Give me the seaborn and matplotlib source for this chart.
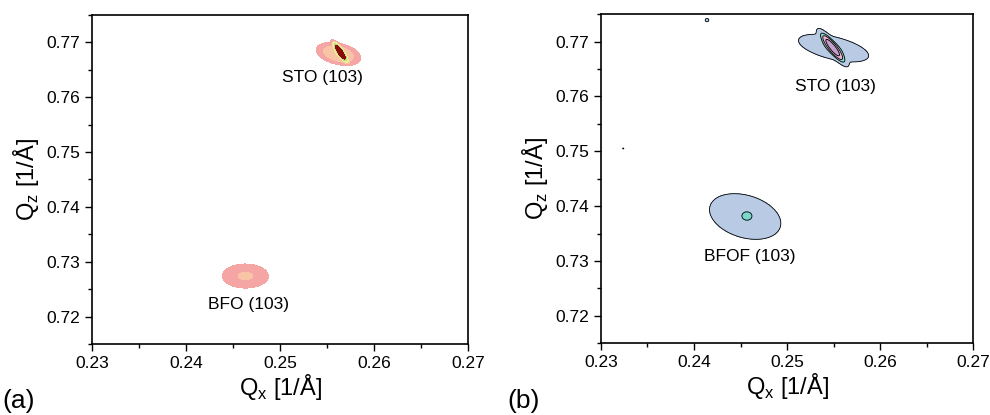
# Reciprocal space maps (103) - panels (a) and (b)
import numpy as np
import matplotlib.pyplot as plt
from matplotlib.ticker import MultipleLocator
import seaborn as sns

sns.set_style('ticks')
plt.rcParams['font.family'] = ['Liberation Sans', 'DejaVu Sans']
plt.rcParams['mathtext.fontset'] = 'custom'
plt.rcParams['mathtext.rm'] = 'Liberation Sans'
for k in ['text.color', 'axes.labelcolor', 'xtick.color', 'ytick.color', 'axes.edgecolor']:
    plt.rcParams[k] = 'black'

# peak parameters: centre, widths, tilt (correlation), height
# panel (a)
a_qx = [0.2463, 0.2562, 0.2564]
a_qz = [0.7274, 0.7679, 0.7682]
a_sx = [0.00165, 0.00125, 0.00028]
a_sz = [0.00148, 0.00112, 0.00066]
a_rho = [0.0, -0.35, -0.85]
a_amp = [3.0, 6.0, 220.0]
a_levels = [1, 2.7, 6, 16, 40, 1e6]
a_colors = ['#f5a5a3', '#f8c4a6', '#f2f08e', '#b6de8a', '#8b0a0a']

# panel (b)
b_qx = [0.2550, 0.2549, 0.2455, 0.2457, 0.2414, 0.2324]
b_qz = [0.7688, 0.7689, 0.7381, 0.7382, 0.7739, 0.7505]
b_sx = [0.0021, 0.00058, 0.0023, 0.00035, 0.0002, 0.00008]
b_sz = [0.0014, 0.0012, 0.0025, 0.0005, 0.0003, 0.0001]
b_rho = [-0.55, -0.88, -0.3, 0.0, 0.0, 0.0]
b_amp = [5.0, 60.0, 4.0, 7.0, 1.6, 1.5]
b_levels = [1, 6, 13, 30, 1e6]
b_colors = ['#b9cbe4', '#7fd6cb', '#eab0cf', '#c2a0cc']

labels_a = ['STO (103)', 'BFO (103)']
labels_a_pos = [(0.2545, 0.7636), (0.2466, 0.7222)]
labels_b = ['STO (103)', 'BFOF (103)']
labels_b_pos = [(0.2552, 0.7618), (0.2460, 0.7308)]

qx = np.linspace(0.23, 0.27, 600)
qz = np.linspace(0.715, 0.775, 600)
X, Z = np.meshgrid(qx, qz)


def intensity(cx, cz, sx, sz, rho, amp):
    total = np.zeros_like(X)
    for x0, z0, wx, wz, r, A in zip(cx, cz, sx, sz, rho, amp):
        u = (X - x0) / wx
        v = (Z - z0) / wz
        m = (u**2 - 2 * r * u * v + v**2) / (1 - r**2)
        total += A * np.exp(-0.5 * m)
    return total


fig = plt.figure(figsize=(9.9, 4.15), dpi=100)
ax1 = fig.add_axes([0.093, 0.171, 0.380, 0.793])
ax2 = fig.add_axes([0.607, 0.173, 0.376, 0.793])

Ia = intensity(a_qx, a_qz, a_sx, a_sz, a_rho, a_amp)
ax1.contourf(X, Z, Ia, levels=a_levels, colors=a_colors)

Ib = intensity(b_qx, b_qz, b_sx, b_sz, b_rho, b_amp)
ax2.contourf(X, Z, Ib, levels=b_levels, colors=b_colors)
ax2.contour(X, Z, Ib, levels=b_levels[:-1], colors='black', linewidths=0.6)

for ax, labs, pos in [(ax1, labels_a, labels_a_pos), (ax2, labels_b, labels_b_pos)]:
    for t, (x, z) in zip(labs, pos):
        ax.text(x, z, t, ha='center', va='center', fontsize=12.5)
    ax.set_xlim(0.23, 0.27)
    ax.set_ylim(0.715, 0.775)
    ax.xaxis.set_major_locator(MultipleLocator(0.01))
    ax.xaxis.set_minor_locator(MultipleLocator(0.005))
    ax.yaxis.set_major_locator(MultipleLocator(0.01))
    ax.yaxis.set_minor_locator(MultipleLocator(0.005))
    ax.xaxis.set_major_formatter(plt.FormatStrFormatter('%.2f'))
    ax.yaxis.set_major_formatter(plt.FormatStrFormatter('%.2f'))
    ax.tick_params(which='major', direction='out', length=5, width=1, labelsize=12.5)
    ax.tick_params(which='minor', direction='out', length=3, width=1)
    ax.set_xlabel(r'Q$_\mathregular{x}$ [1/Å]', fontsize=17, labelpad=1)
    ax.set_ylabel(r'Q$_\mathregular{z}$ [1/Å]', fontsize=17, labelpad=4)
    for s in ax.spines.values():
        s.set_linewidth(1.2)

fig.text(0.002, 0.005, '(a)', fontsize=19, ha='left', va='bottom')
fig.text(0.513, 0.005, '(b)', fontsize=19, ha='left', va='bottom')

plt.savefig('out.png', dpi=100)
